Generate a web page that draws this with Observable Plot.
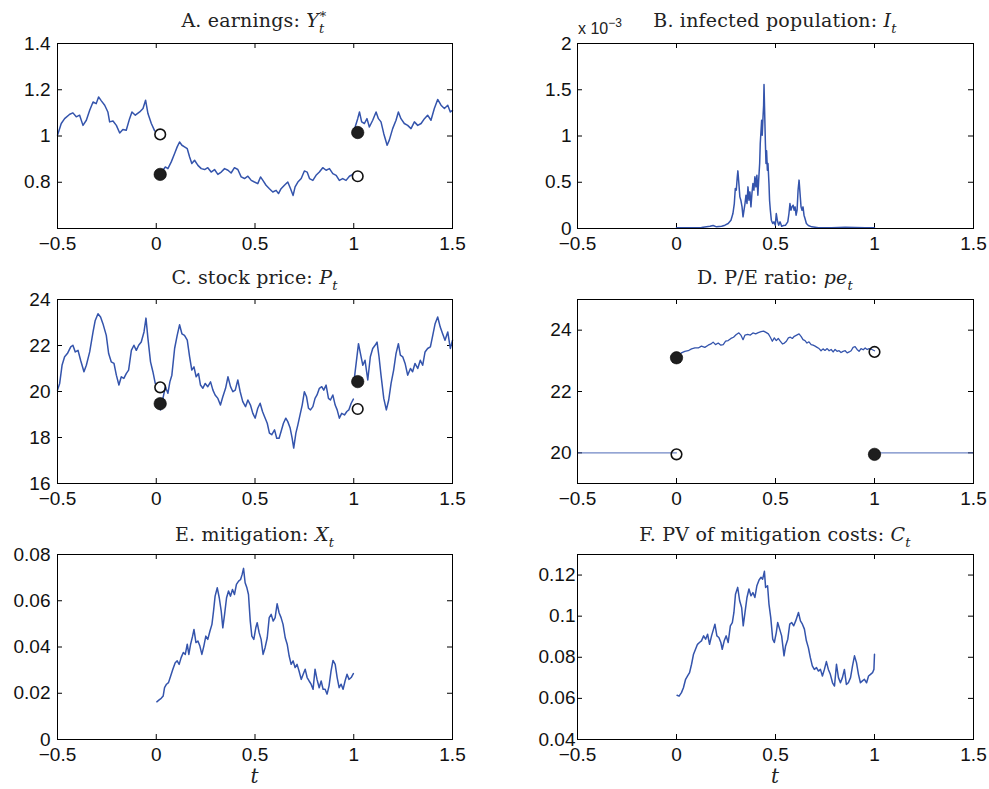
<!DOCTYPE html>
<html><head><meta charset="utf-8">
<script src="https://cdn.jsdelivr.net/npm/d3@7"></script>
<script src="https://cdn.jsdelivr.net/npm/@observablehq/plot@0.6"></script>
<style>
body{margin:0;background:#fff;}
#root{position:relative;width:989px;height:789px;overflow:hidden;background:#fff;}
.title{position:absolute;width:460px;text-align:center;font-family:"DejaVu Serif",serif;font-size:19px;letter-spacing:0.2px;line-height:22px;color:#222;white-space:nowrap;}
.sb{font-size:13px;line-height:13px;font-style:italic;position:relative;top:6px;}
.sp{font-size:13px;line-height:13px;position:relative;top:-9px;margin-left:-6px;}
.xlab{position:absolute;width:40px;text-align:center;font-family:"DejaVu Serif",serif;font-style:italic;font-size:20px;line-height:24px;color:#222;}
.exp{position:absolute;font-family:"Liberation Sans",Arial,sans-serif;font-size:16px;line-height:16px;color:#222;white-space:nowrap;}
.exp span{font-size:12px;position:relative;top:-7px;}
</style>
</head><body>
<div id="root"></div>
<script>
// ---------- data ----------
const xTicks = [-0.5, 0, 0.5, 1, 1.5];

// A. earnings
const earnT1 = [-0.5,-0.481,-0.464,-0.438,-0.422,-0.405,-0.388,-0.371,-0.354,-0.337,-0.320,-0.304,-0.292,-0.278,-0.261,-0.245,-0.236,-0.219,-0.202,-0.185,-0.169,-0.152,-0.135,-0.123,-0.106,-0.084,-0.067,-0.054,-0.042,-0.025,-0.008];
const earnV1 = [1.003,1.054,1.075,1.094,1.100,1.083,1.090,1.046,1.068,1.111,1.147,1.140,1.169,1.152,1.133,1.104,1.061,1.065,1.046,1.013,1.028,1.025,1.075,1.104,1.090,1.104,1.119,1.155,1.097,1.054,1.022];
const earnT2 = [0.025,0.034,0.046,0.059,0.076,0.093,0.106,0.118,0.130,0.143,0.157,0.169,0.180,0.194,0.211,0.228,0.245,0.261,0.278,0.295,0.312,0.329,0.346,0.363,0.379,0.396,0.413,0.430,0.447,0.464,0.481,0.497,0.514,0.528,0.540,0.556,0.573,0.590,0.607,0.619,0.632,0.649,0.666,0.680,0.693,0.703,0.717,0.734,0.750,0.764,0.776,0.793,0.809,0.826,0.843,0.860,0.877,0.894,0.911,0.927,0.944,0.961,0.978,0.995];
const earnV2 = [0.844,0.852,0.866,0.859,0.888,0.924,0.953,0.974,0.960,0.953,0.945,0.909,0.881,0.895,0.873,0.859,0.855,0.863,0.844,0.855,0.834,0.844,0.859,0.852,0.840,0.863,0.855,0.823,0.816,0.826,0.808,0.801,0.794,0.823,0.808,0.787,0.772,0.758,0.765,0.751,0.772,0.787,0.801,0.772,0.743,0.780,0.801,0.816,0.849,0.844,0.816,0.808,0.830,0.844,0.863,0.852,0.859,0.837,0.830,0.808,0.816,0.808,0.826,0.834];
const earnT3 = [1.0,1.007,1.020,1.029,1.040,1.054,1.067,1.079,1.096,1.113,1.125,1.138,1.152,1.169,1.180,1.197,1.214,1.226,1.239,1.256,1.273,1.290,1.307,1.324,1.341,1.358,1.374,1.391,1.408,1.425,1.442,1.459,1.476,1.489,1.5];
const earnV3 = [1.025,1.039,1.075,1.104,1.061,1.054,1.075,1.039,1.068,1.104,1.075,1.061,1.010,0.960,0.982,1.032,1.068,1.104,1.075,1.054,1.046,1.032,1.061,1.046,1.054,1.075,1.090,1.068,1.119,1.158,1.133,1.119,1.133,1.104,1.111];
const earnFilledT = [0.02, 1.02], earnFilledV = [0.834, 1.015];
const earnOpenT = [0.02, 1.02], earnOpenV = [1.007, 0.826];

// B. infected population (units of 10^-3)
const infT = [0.000,0.076,0.126,0.169,0.185,0.202,0.228,0.245,0.261,0.275,0.285,0.292,0.297,0.302,0.307,0.310,0.315,0.320,0.325,0.331,0.336,0.341,0.346,0.351,0.356,0.361,0.366,0.371,0.376,0.381,0.386,0.391,0.396,0.401,0.406,0.411,0.415,0.420,0.423,0.427,0.430,0.433,0.437,0.440,0.442,0.445,0.449,0.452,0.455,0.459,0.462,0.467,0.470,0.474,0.479,0.486,0.492,0.499,0.504,0.509,0.516,0.523,0.531,0.541,0.551,0.562,0.568,0.573,0.578,0.583,0.589,0.594,0.599,0.604,0.609,0.614,0.619,0.624,0.629,0.634,0.639,0.644,0.649,0.656,0.666,0.683,0.717,0.784,0.852,0.902,0.953,1.0];
const infV = [0.007,0.007,0.011,0.025,0.032,0.018,0.025,0.036,0.054,0.090,0.162,0.270,0.432,0.414,0.559,0.623,0.486,0.342,0.306,0.234,0.126,0.198,0.270,0.360,0.270,0.450,0.306,0.396,0.234,0.378,0.486,0.414,0.559,0.450,0.577,0.360,0.523,0.703,0.919,1.063,1.171,1.009,1.207,1.333,1.557,1.279,0.919,0.703,0.840,0.631,0.703,0.486,0.306,0.198,0.090,0.054,0.072,0.036,0.162,0.090,0.036,0.072,0.025,0.032,0.036,0.072,0.162,0.270,0.198,0.234,0.252,0.198,0.234,0.144,0.198,0.414,0.523,0.378,0.234,0.198,0.234,0.144,0.108,0.054,0.032,0.018,0.007,0.007,0.014,0.011,0.007,0.007];

// C. stock price
const priceT1 = [-0.5,-0.489,-0.477,-0.464,-0.450,-0.433,-0.422,-0.410,-0.396,-0.383,-0.366,-0.354,-0.337,-0.320,-0.309,-0.295,-0.282,-0.270,-0.253,-0.241,-0.228,-0.214,-0.202,-0.189,-0.177,-0.164,-0.152,-0.140,-0.126,-0.113,-0.101,-0.089,-0.076,-0.062,-0.052,-0.042,-0.029,-0.017,-0.005];
const priceV1 = [20.06,20.35,21.14,21.51,21.65,21.94,22.01,21.72,21.79,21.36,20.86,21.14,21.72,22.59,23.09,23.38,23.24,22.95,22.44,21.65,21.29,21.22,20.71,20.28,20.64,20.57,20.78,20.93,21.79,22.01,21.79,22.01,22.15,22.59,23.19,22.30,21.29,20.86,20.35];
const priceT2 = [0.012,0.022,0.034,0.046,0.059,0.069,0.079,0.093,0.106,0.118,0.130,0.143,0.157,0.169,0.180,0.191,0.202,0.214,0.224,0.236,0.248,0.261,0.275,0.287,0.298,0.312,0.325,0.337,0.351,0.363,0.376,0.388,0.400,0.413,0.425,0.438,0.452,0.464,0.477,0.489,0.501,0.514,0.526,0.538,0.548,0.562,0.573,0.585,0.599,0.610,0.622,0.632,0.644,0.656,0.666,0.678,0.688,0.696,0.707,0.717,0.728,0.739,0.750,0.761,0.771,0.781,0.793,0.804,0.814,0.826,0.838,0.848,0.860,0.872,0.882,0.894,0.906,0.916,0.927,0.939,0.953,0.965,0.975,0.987,0.998];
const priceV2 = [19.41,19.20,19.70,20.21,19.92,20.42,20.71,21.87,22.44,22.90,22.51,22.44,22.23,21.51,20.93,21.07,20.64,20.78,20.28,20.14,20.35,20.21,20.42,20.06,19.85,19.70,19.41,19.77,20.14,20.64,20.21,19.99,20.06,20.50,19.99,19.56,19.34,19.63,19.41,19.05,18.84,19.27,19.49,19.13,18.91,18.62,18.19,18.12,18.33,17.97,17.97,18.26,18.62,18.84,18.69,18.41,17.97,17.54,18.19,18.55,18.98,19.41,19.99,19.77,19.27,19.20,19.34,19.70,19.85,20.14,20.21,20.06,20.28,19.70,19.63,19.85,19.41,19.20,18.84,19.05,18.98,19.13,19.20,19.49,19.67];
const priceT3 = [1.003,1.013,1.024,1.034,1.046,1.057,1.071,1.084,1.096,1.108,1.118,1.128,1.138,1.152,1.165,1.177,1.189,1.202,1.214,1.226,1.236,1.248,1.260,1.273,1.287,1.298,1.310,1.324,1.337,1.349,1.361,1.374,1.388,1.400,1.412,1.425,1.438,1.450,1.462,1.476,1.489,1.5];
const priceV3 = [20.57,21.29,22.08,21.65,21.14,21.36,20.50,21.51,21.87,22.01,22.15,21.51,20.71,19.70,19.20,19.63,20.35,20.93,21.65,22.08,21.58,21.51,21.22,20.71,21.00,20.86,21.22,21.00,21.36,21.14,21.72,21.87,21.94,22.44,22.95,23.24,22.80,22.51,22.23,22.59,21.87,22.23];
const priceFilledT = [0.02, 1.02], priceFilledV = [19.47, 20.43];
const priceOpenT = [0.02, 1.02], priceOpenV = [20.18, 19.24];

// D. P/E ratio
const peFlatT1 = [-0.5, 0], peFlatV1 = [20, 20];
const peFlatT2 = [1, 1.5], peFlatV2 = [20, 20];
const peT = [0,0.008,0.025,0.042,0.059,0.076,0.093,0.110,0.126,0.143,0.160,0.174,0.185,0.197,0.211,0.224,0.236,0.248,0.261,0.275,0.288,0.302,0.315,0.325,0.336,0.346,0.359,0.373,0.386,0.400,0.413,0.427,0.440,0.454,0.464,0.474,0.484,0.494,0.504,0.514,0.524,0.535,0.545,0.555,0.565,0.575,0.585,0.595,0.607,0.619,0.629,0.639,0.649,0.659,0.669,0.680,0.690,0.700,0.710,0.720,0.730,0.740,0.750,0.761,0.771,0.781,0.791,0.801,0.811,0.821,0.831,0.841,0.852,0.862,0.872,0.882,0.892,0.902,0.912,0.922,0.932,0.943,0.953,0.963,0.973,0.987,1.0];
const peV = [23.10,23.15,23.26,23.31,23.33,23.39,23.42,23.42,23.48,23.44,23.51,23.55,23.61,23.53,23.58,23.51,23.53,23.64,23.66,23.73,23.77,23.86,23.91,23.84,23.69,23.84,23.86,23.84,23.91,23.88,23.92,23.95,23.97,23.92,23.88,23.77,23.64,23.75,23.66,23.73,23.64,23.55,23.58,23.64,23.75,23.77,23.73,23.80,23.84,23.88,23.80,23.69,23.66,23.58,23.62,23.53,23.51,23.48,23.44,23.40,23.33,23.39,23.34,23.40,23.33,23.37,23.29,23.37,23.31,23.33,23.27,23.31,23.33,23.26,23.29,23.33,23.44,23.46,23.37,23.31,23.40,23.36,23.42,23.37,23.40,23.37,23.33];
const peFilledT = [0, 1], peFilledV = [23.10, 19.95];
const peOpenT = [0, 1], peOpenV = [19.95, 23.29];

// E. mitigation
const mitT = [0.003,0.013,0.025,0.035,0.042,0.052,0.062,0.073,0.084,0.096,0.106,0.116,0.126,0.137,0.147,0.157,0.165,0.174,0.184,0.191,0.201,0.211,0.221,0.231,0.241,0.251,0.261,0.272,0.282,0.290,0.298,0.309,0.319,0.329,0.337,0.346,0.356,0.366,0.376,0.386,0.396,0.406,0.417,0.427,0.435,0.442,0.450,0.459,0.467,0.476,0.484,0.494,0.504,0.511,0.521,0.531,0.541,0.551,0.562,0.572,0.582,0.592,0.602,0.612,0.622,0.632,0.642,0.653,0.663,0.673,0.683,0.693,0.703,0.713,0.723,0.734,0.744,0.754,0.764,0.774,0.784,0.794,0.804,0.814,0.825,0.835,0.845,0.855,0.865,0.875,0.885,0.895,0.906,0.916,0.926,0.936,0.946,0.956,0.966,0.976,0.987,0.998];
const mitV = [0.0163,0.0170,0.0178,0.0188,0.0224,0.0239,0.0246,0.0275,0.0304,0.0332,0.0340,0.0325,0.0354,0.0376,0.0368,0.0412,0.0368,0.0412,0.0447,0.0476,0.0419,0.0426,0.0404,0.0368,0.0404,0.0447,0.0433,0.0469,0.0498,0.0555,0.0620,0.0656,0.0613,0.0555,0.0483,0.0541,0.0613,0.0642,0.0620,0.0649,0.0627,0.0671,0.0685,0.0692,0.0714,0.0740,0.0678,0.0656,0.0627,0.0512,0.0447,0.0433,0.0483,0.0505,0.0462,0.0433,0.0368,0.0397,0.0440,0.0527,0.0541,0.0512,0.0527,0.0587,0.0548,0.0527,0.0498,0.0440,0.0412,0.0361,0.0325,0.0340,0.0311,0.0325,0.0296,0.0260,0.0282,0.0304,0.0268,0.0253,0.0239,0.0217,0.0304,0.0260,0.0224,0.0253,0.0217,0.0217,0.0196,0.0232,0.0296,0.0342,0.0325,0.0268,0.0224,0.0239,0.0217,0.0253,0.0282,0.0260,0.0268,0.0285];

// F. PV of mitigation costs
const costT = [0.003,0.013,0.025,0.035,0.046,0.056,0.066,0.076,0.086,0.096,0.106,0.116,0.126,0.137,0.147,0.157,0.167,0.177,0.187,0.194,0.204,0.214,0.224,0.231,0.241,0.251,0.261,0.272,0.282,0.290,0.298,0.309,0.319,0.329,0.337,0.346,0.356,0.366,0.376,0.386,0.396,0.406,0.417,0.427,0.435,0.444,0.450,0.460,0.467,0.476,0.486,0.494,0.504,0.511,0.521,0.531,0.543,0.551,0.562,0.572,0.582,0.592,0.602,0.616,0.626,0.636,0.646,0.656,0.666,0.676,0.686,0.696,0.707,0.717,0.727,0.737,0.747,0.757,0.767,0.777,0.788,0.798,0.808,0.818,0.828,0.838,0.848,0.858,0.868,0.879,0.889,0.899,0.909,0.919,0.929,0.939,0.949,0.960,0.970,0.980,0.990,0.997,1.0];
const costV = [0.0615,0.0611,0.0628,0.0652,0.0693,0.0709,0.0725,0.0766,0.0815,0.0839,0.0863,0.0872,0.0880,0.0904,0.0888,0.0912,0.0863,0.0904,0.0937,0.0961,0.0904,0.0896,0.0872,0.0839,0.0880,0.0904,0.0872,0.0953,0.0969,0.1018,0.1107,0.1140,0.1075,0.1042,0.0953,0.1018,0.1091,0.1132,0.1099,0.1115,0.1091,0.1148,0.1176,0.1189,0.1180,0.1218,0.1140,0.1148,0.1059,0.0993,0.0888,0.0872,0.0920,0.0969,0.0937,0.0904,0.0807,0.0855,0.0888,0.0961,0.0969,0.0953,0.0977,0.1018,0.0977,0.0961,0.0937,0.0880,0.0847,0.0798,0.0758,0.0741,0.0750,0.0733,0.0741,0.0709,0.0741,0.0779,0.0741,0.0717,0.0676,0.0660,0.0766,0.0701,0.0676,0.0701,0.0741,0.0668,0.0676,0.0701,0.0758,0.0807,0.0774,0.0717,0.0676,0.0685,0.0693,0.0676,0.0709,0.0717,0.0725,0.0741,0.0815];

// y ticks per panel
const yTicksA = [0.8, 1, 1.2, 1.4];
const yTicksB = [0, 0.5, 1, 1.5, 2];
const yTicksC = [16, 18, 20, 22, 24];
const yTicksD = [20, 22, 24];
const yTicksE = [0, 0.02, 0.04, 0.06, 0.08];
const yTicksF = [0.04, 0.06, 0.08, 0.1, 0.12];

// ---------- drawing ----------
const BLUE = "#3454ac";
const zipTV = (t, v) => t.map((d, i) => ({t: d, v: v[i]}));
const fmt = d => (d < 0 ? "\u2212" + Math.abs(d) : String(d));
const root = document.getElementById("root");

function panel(cfg) {
  const fw = cfg.right - cfg.left, fh = cfg.bottom - cfg.top;
  const ML = 60, MR = 40, MT = 10, MB = 45;
  const marks = [];
  marks.push(Plot.tickX(xTicks, {x: d => d, insetTop: fh - 5, stroke: "#000"}));
  marks.push(Plot.tickX(xTicks, {x: d => d, insetBottom: fh - 5, stroke: "#000"}));
  marks.push(Plot.tickY(cfg.yTicks, {y: d => d, insetRight: fw - 5, stroke: "#000"}));
  marks.push(Plot.tickY(cfg.yTicks, {y: d => d, insetLeft: fw - 5, stroke: "#000"}));
  for (const s of cfg.series) {
    marks.push(Plot.line(s.data, {x: "t", y: "v", stroke: BLUE, strokeWidth: s.w || 1.5, strokeOpacity: s.o || 1, strokeLinejoin: "round"}));
  }
  if (cfg.open) marks.push(Plot.dot(cfg.open, {x: "t", y: "v", r: 5.3, stroke: "#111", strokeWidth: 1.6, fill: "none"}));
  if (cfg.filled) marks.push(Plot.dot(cfg.filled, {x: "t", y: "v", r: 6.2, fill: "#1e1e1e", stroke: "#000", strokeWidth: 0.6}));
  marks.push(Plot.frame({stroke: "#000", strokeWidth: 1}));
  marks.push(Plot.axisX(xTicks, {tickSize: 0, tickPadding: 8, tickFormat: fmt, fontSize: 19, label: null, fill: "#111"}));
  marks.push(Plot.axisY(cfg.yTicks, {tickSize: 0, tickPadding: cfg.pad, tickFormat: fmt, fontSize: 19, label: null, fill: "#111"}));
  const svg = Plot.plot({
    width: fw + ML + MR, height: fh + MT + MB,
    marginLeft: ML, marginRight: MR, marginTop: MT, marginBottom: MB,
    x: {domain: [-0.5, 1.5], label: null},
    y: {domain: cfg.domain, label: null},
    style: {fontFamily: "'Liberation Sans', Arial, sans-serif", fontSize: "19px", background: "transparent", overflow: "visible", color: "#111"},
    marks
  });
  svg.style.position = "absolute";
  svg.style.left = (cfg.left - ML) + "px";
  svg.style.top = (cfg.top - MT) + "px";
  root.appendChild(svg);
}

panel({left: 57, right: 452, top: 43, bottom: 228, domain: [0.6, 1.4], yTicks: yTicksA, pad: 7,
  series: [{data: zipTV(earnT1, earnV1)}, {data: zipTV(earnT2, earnV2)}, {data: zipTV(earnT3, earnV3)}],
  open: zipTV(earnOpenT, earnOpenV), filled: zipTV(earnFilledT, earnFilledV)});
panel({left: 577, right: 973, top: 43, bottom: 228, domain: [0, 2], yTicks: yTicksB, pad: 6,
  series: [{data: zipTV(infT, infV)}]});
panel({left: 57, right: 452, top: 299, bottom: 483, domain: [16, 24], yTicks: yTicksC, pad: 7,
  series: [{data: zipTV(priceT1, priceV1)}, {data: zipTV(priceT2, priceV2)}, {data: zipTV(priceT3, priceV3)}],
  open: zipTV(priceOpenT, priceOpenV), filled: zipTV(priceFilledT, priceFilledV)});
panel({left: 577, right: 973, top: 299, bottom: 483, domain: [19, 25], yTicks: yTicksD, pad: 6,
  series: [{data: zipTV(peFlatT1, peFlatV1), w: 1.2, o: 0.7}, {data: zipTV(peFlatT2, peFlatV2), w: 1.2, o: 0.7}, {data: zipTV(peT, peV), w: 1.3}],
  open: zipTV(peOpenT, peOpenV), filled: zipTV(peFilledT, peFilledV)});
panel({left: 57, right: 452, top: 554, bottom: 739, domain: [0, 0.08], yTicks: yTicksE, pad: 7,
  series: [{data: zipTV(mitT, mitV)}]});
panel({left: 577, right: 973, top: 554, bottom: 739, domain: [0.04, 0.13], yTicks: yTicksF, pad: 2,
  series: [{data: zipTV(costT, costV)}]});

// ---------- titles ----------
const titles = [
  {cx: 254.5, base: 27, html: 'A. earnings: <i>Y</i><span class="sb">t</span><span class="sp">\u2217</span>'},
  {cx: 775, base: 27, html: 'B. infected population: <i>I</i><span class="sb">t</span>'},
  {cx: 254.5, base: 284, html: 'C. stock price: <i>P</i><span class="sb">t</span>'},
  {cx: 775, base: 284, html: 'D. P/E ratio: <i>pe</i><span class="sb">t</span>'},
  {cx: 254.5, base: 541, html: 'E. mitigation: <i>X</i><span class="sb">t</span>'},
  {cx: 775, base: 541, html: 'F. PV of mitigation costs: <i>C</i><span class="sb">t</span>'}
];
for (const t of titles) {
  const d = document.createElement("div");
  d.className = "title";
  d.style.left = (t.cx - 230) + "px";
  d.style.top = (t.base - 18) + "px";
  d.innerHTML = t.html;
  root.appendChild(d);
}
for (const cx of [254.5, 775]) {
  const d = document.createElement("div");
  d.className = "xlab";
  d.style.left = (cx - 20) + "px";
  d.style.top = "764px";
  d.textContent = "t";
  root.appendChild(d);
}
const ex = document.createElement("div");
ex.className = "exp";
ex.style.left = "578px";
ex.style.top = "21px";
ex.innerHTML = 'x 10<span>\u22123</span>';
root.appendChild(ex);
</script>
</body></html>
